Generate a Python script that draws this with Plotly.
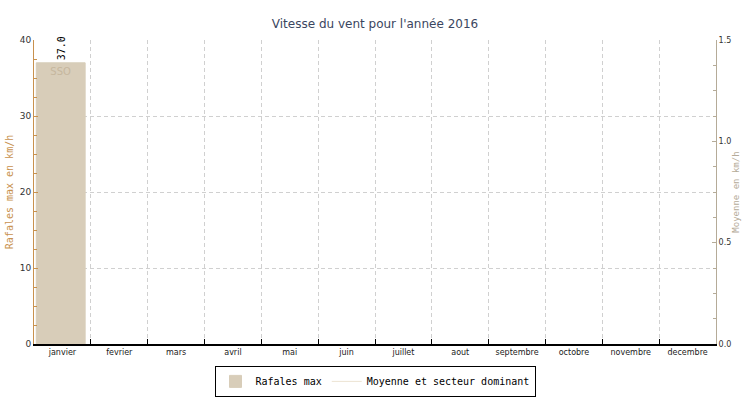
import plotly.graph_objects as go

# monthly values, 2016
mois = ['janvier', 'fevrier', 'mars', 'avril', 'mai', 'juin', 'juillet',
        'aout', 'septembre', 'octobre', 'novembre', 'decembre']
rafales = [37.0, None, None, None, None, None, None, None, None, None, None, None]
secteur = ['SSO', '', '', '', '', '', '', '', '', '', '', '']
moyenne = [None] * 12

MONO = 'DejaVu Sans Mono'
SANS = 'DejaVu Sans'

fig = go.Figure()

fig.add_trace(go.Bar(x=mois, y=rafales, name='Rafales max',
                     marker=dict(color='#d8cdb9', line=dict(width=1, color='#d8cdb9')),
                     width=0.86, offset=-0.46,
                     text=secteur, textposition='inside', insidetextanchor='end',
                     textangle=0,
                     textfont=dict(family=SANS, size=10, color='#c6b79e'),
                     hoverinfo='x+y'))

fig.add_trace(go.Scatter(x=mois, y=moyenne, name='Moyenne et secteur dominant',
                         mode='lines', line=dict(color='#ece3d2', width=1),
                         yaxis='y2'))

# value labels above the bars
for m, v in zip(mois, rafales):
    if v is not None:
        fig.add_annotation(x=m, y=v, text='%.1f' % v, textangle=-90, showarrow=False,
                           yanchor='bottom', yshift=1, xshift=-1,
                           font=dict(family=MONO, size=10, color='black'))

fig.update_layout(
    width=750, height=400,
    margin=dict(l=34, r=34, t=40, b=56, autoexpand=False),
    paper_bgcolor='white', plot_bgcolor='white',
    title=dict(text="Vitesse du vent pour l'année 2016", x=0.5, xanchor='center',
               y=0.94, yanchor='middle',
               font=dict(family=SANS, size=12, color='#3b4660')),
    showlegend=True,
    legend=dict(orientation='h', x=0.5, xanchor='center', y=-0.072, yanchor='top',
                bordercolor='black', borderwidth=1, bgcolor='white',
                font=dict(family=MONO, size=10, color='black'),
                itemwidth=30),
    bargap=0.14,
    xaxis=dict(type='category', tickson='boundaries', showgrid=True,
               gridcolor='#d0d0d0', griddash='4px,3px', gridwidth=1,
               showline=True, linecolor='black', linewidth=1.5,
               ticks='inside', ticklen=5, tickcolor='black',
               tickangle=0, automargin=False,
               tickfont=dict(family=SANS, size=8, color='#222222'),
               range=[-0.5, 11.5]),
    yaxis=dict(range=[0, 40], dtick=10, showgrid=True, gridcolor='#d0d0d0',
               griddash='4px,3px', zeroline=False, automargin=False,
               showline=True, linecolor='#c8914e', linewidth=1,
               ticks='inside', ticklen=4, tickcolor='#c8914e',
               minor=dict(dtick=2.5, ticks='inside', ticklen=3, tickcolor='#c8914e',
                          showgrid=False),
               tickfont=dict(family=SANS, size=9, color='#333333'),
               title=dict(text='Rafales max en km/h', standoff=4,
                          font=dict(family=MONO, size=10, color='#c8914e'))),
    yaxis2=dict(overlaying='y', side='right', range=[0, 1.5], dtick=0.5,
                tickformat='.1f', showgrid=False, zeroline=False, automargin=False,
                showline=True, linecolor='#b5ab98', linewidth=1,
                ticks='inside', ticklen=4, tickcolor='#b5ab98',
                minor=dict(dtick=0.125, ticks='inside', ticklen=3, tickcolor='#b5ab98',
                           showgrid=False),
                tickfont=dict(family=SANS, size=8, color='#333333'),
                title=dict(text='Moyenne en km/h', standoff=2,
                           font=dict(family=MONO, size=9, color='#b5ab98'))),
)

# drop the default page margin so the figure sits at the window's corner
fig.write_html("out.html", config={'displayModeBar': False},
               post_script="document.body.style.margin='0';")
